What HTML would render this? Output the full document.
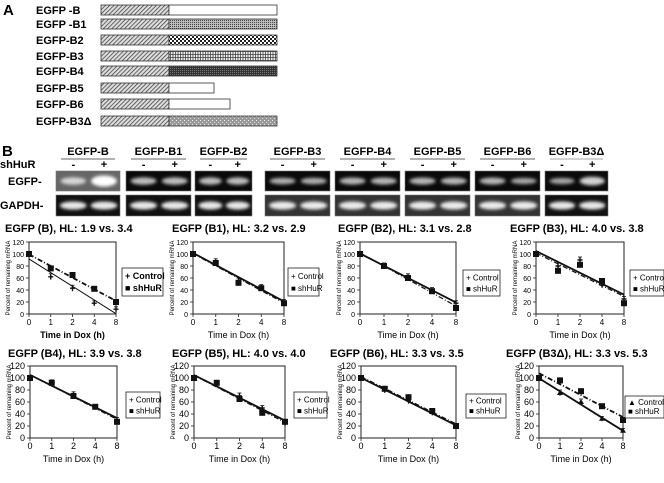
<!DOCTYPE html>
<html><head><meta charset="utf-8"><style>
html,body{margin:0;padding:0;background:#fff;}
svg{display:block;font-family:"Liberation Sans",sans-serif;}
</style></head><body>
<svg id="fig" width="664" height="483" viewBox="0 0 664 483" xmlns="http://www.w3.org/2000/svg">
<defs>
<pattern id="diag" width="3" height="3" patternUnits="userSpaceOnUse" patternTransform="rotate(45)"><rect width="3" height="3" fill="#ddd"/><line x1="0" y1="0" x2="0" y2="3" stroke="#333" stroke-width="1.4"/></pattern>
<pattern id="dots1" width="2" height="2" patternUnits="userSpaceOnUse"><rect width="2" height="2" fill="#bbb"/><rect width="1" height="1" fill="#444"/></pattern>
<pattern id="check" width="4" height="4" patternUnits="userSpaceOnUse"><rect width="4" height="4" fill="#fff"/><rect width="2" height="2" fill="#222"/><rect x="2" y="2" width="2" height="2" fill="#222"/></pattern>
<pattern id="grid" width="2.5" height="3" patternUnits="userSpaceOnUse"><rect width="3" height="3" fill="#eee"/><line x1="0.5" y1="0" x2="0.5" y2="3" stroke="#444" stroke-width="0.8"/><line x1="0" y1="0.5" x2="3" y2="0.5" stroke="#444" stroke-width="0.8"/></pattern>
<pattern id="dark" width="2" height="2" patternUnits="userSpaceOnUse"><rect width="2" height="2" fill="#333"/><rect width="1" height="1" fill="#777"/></pattern>
<pattern id="sparse" width="4" height="4" patternUnits="userSpaceOnUse"><rect width="4" height="4" fill="#999"/><rect width="1" height="1" fill="#eee"/><rect x="2" y="2" width="1" height="1" fill="#ddd"/></pattern>
<filter id="blur" x="-20%" y="-80%" width="140%" height="260%"><feGaussianBlur stdDeviation="1.6"/></filter>
</defs>
<g id="partA"></g>
<g id="gels"></g>
<g id="charts"></g>
</svg>
<script>
var NS='http://www.w3.org/2000/svg';
function mk(tag,attrs,parent,txt){var e=document.createElementNS(NS,tag);for(var k in attrs)e.setAttribute(k,attrs[k]);if(txt!==undefined)e.textContent=txt;parent.appendChild(e);return e;}

// ---- Panel A data ----
var constructNames=['EGFP -B','EGFP -B1','EGFP-B2','EGFP-B3','EGFP-B4','EGFP-B5','EGFP-B6','EGFP-B3\u0394'];
var constructEnds=[277,277,277,277,277,214,230,277];
var constructFills=['#fff','url(#dots1)','url(#check)','url(#grid)','url(#dark)','#fff','#fff','url(#sparse)'];
var rowsY=[10,24,40,56,71,88,104,121];
var A=document.getElementById('partA');
var t=mk('text',{x:3,y:15,'font-size':15,'font-weight':'bold'},A,'A');

constructNames.forEach(function(n,i){
 var y=rowsY[i];
 var tx=mk('text',{x:36,y:y+4,'font-size':11,'font-weight':'bold'},A,n);
 
 var g=mk('g',{},A);
 
 mk('rect',{x:101,y:y-5,width:68,height:10,fill:'url(#diag)',stroke:'#333','stroke-width':0.8},g);
 mk('rect',{x:169,y:y-5,width:constructEnds[i]-169,height:10,fill:constructFills[i],stroke:'#333','stroke-width':0.8},g);
});

// ---- Gels ----
var gelNames=['EGFP-B','EGFP-B1','EGFP-B2','EGFP-B3','EGFP-B4','EGFP-B5','EGFP-B6','EGFP-B3\u0394'];
var gelX=[56,126,195,265,335,405,475,545];
var gelW=[64,65,57,65,65,65,65,63];
var egfpBand=[[0.55,1.0],[0.55,0.55],[0.55,0.55],[0.45,0.45],[0.5,0.5],[0.5,0.5],[0.5,0.4],[0.4,0.7]];
var G=document.getElementById('gels');
var bl=mk('text',{x:2,y:156,'font-size':15,'font-weight':'bold'},G,'B');

var l1=mk('text',{x:0,y:168,'font-size':11,'font-weight':'bold'},G,'shHuR');

var l2=mk('text',{x:8,y:185,'font-size':11,'font-weight':'bold'},G,'EGFP-');

var l3=mk('text',{x:0,y:209,'font-size':11,'font-weight':'bold'},G,'GAPDH-');

gelNames.forEach(function(n,i){
 var x=gelX[i],w=gelW[i],cx=x+w/2;
 var tt=mk('text',{x:cx,y:155,'font-size':11,'font-weight':'bold','text-anchor':'middle'},G,n);
 
 mk('line',{x1:x+5,y1:159,x2:x+w-5,y2:159,stroke:i==7?'#888':'#333','stroke-width':0.8},G);
 mk('text',{x:x+w*0.27,y:168,'font-size':11,'font-weight':'bold','text-anchor':'middle'},G,'-');
 mk('text',{x:x+w*0.75,y:168,'font-size':11,'font-weight':'bold','text-anchor':'middle'},G,'+');
 var bg=i==0?'#666':'#0a0a0a';
 var g1=mk('g',{},G);
 mk('rect',{x:x,y:171,width:w,height:20,fill:bg,stroke:'#777','stroke-width':0.6},g1);
 [0.27,0.75].forEach(function(f,j){var s=egfpBand[i][j];
  mk('ellipse',{cx:x+w*f,cy:181,rx:w*0.2,ry:1.5+4*s,fill:'#fff',opacity:0.4+0.6*s,filter:'url(#blur)'},g1);});
 var g2=mk('g',{},G);
 mk('rect',{x:x,y:195,width:w,height:21,fill:i==3||i==4||i==5||i==6?'#333':'#111',stroke:'#777','stroke-width':0.6},g2);
 [0.27,0.75].forEach(function(f){mk('ellipse',{cx:x+w*f,cy:205.5,rx:w*0.21,ry:4,fill:'#fff',opacity:0.9,filter:'url(#blur)'},g2);});
});

// ---- Charts data ----
var timeLabels=['0','1','2','4','8'];
var yTicks=[0,20,40,60,80,100,120];
var chartTitles=['EGFP (B), HL: 1.9 vs. 3.4','EGFP (B1), HL: 3.2 vs. 2.9','EGFP (B2), HL: 3.1 vs. 2.8','EGFP (B3), HL: 4.0 vs. 3.8','EGFP (B4), HL: 3.9 vs. 3.8','EGFP (B5), HL: 4.0 vs. 4.0','EGFP (B6), HL: 3.3 vs. 3.5','EGFP (B3\u0394), HL: 3.3 vs. 5.3'];
var controlB=[100,62,43,18,8];   var shB=[100,76,65,42,20];
var controlB1=[100,87,55,45,20]; var shB1=[100,85,52,43,18];
var controlB2=[100,80,62,40,18]; var shB2=[100,80,60,38,10];
var controlB3=[100,80,90,48,25]; var shB3=[100,72,82,55,18];
var controlB4=[100,92,72,52,30]; var shB4=[100,92,70,52,27];
var controlB5=[100,90,70,50,25]; var shB5=[100,92,65,42,27];
var controlB6=[100,80,62,42,20]; var shB6=[100,82,68,45,20];
var controlB3d=[100,75,60,32,12]; var shB3d=[100,96,78,53,30];
var errorBar=[2,5,5,4,4];
var controlSeries=[controlB,controlB1,controlB2,controlB3,controlB4,controlB5,controlB6,controlB3d];
var shSeries=[shB,shB1,shB2,shB3,shB4,shB5,shB6,shB3d];

// layout (not data)
var layout=[
 {l:29,r:116,t:242,b:314,tx:5,ty:232,lg:[122,268,41,28]},
 {l:193,r:284,t:242,b:314,tx:172,ty:232,lg:[288,268,31,28]},
 {l:360,r:456,t:242,b:314,tx:338,ty:232,lg:[463,270,37,26]},
 {l:536,r:624,t:242,b:314,tx:510,ty:232,lg:[630,270,34,26]},
 {l:30,r:117,t:366,b:438,tx:8,ty:357,lg:[126,392,34,26]},
 {l:194,r:285,t:366,b:438,tx:172,ty:357,lg:[294,392,33,26]},
 {l:361,r:456,t:366,b:438,tx:330,ty:357,lg:[466,394,40,24]},
 {l:539,r:623,t:366,b:438,tx:506,ty:357,lg:[625,396,39,22]}
];
var C=document.getElementById('charts');
function fit(ys){var n=ys.length,mx=(n-1)/2,my=0;ys.forEach(function(v){my+=v;});my/=n;var sxy=0,sxx=0;ys.forEach(function(v,i){sxy+=(i-mx)*(v-my);sxx+=(i-mx)*(i-mx);});var s=sxy/sxx;return [my-s*mx,s];}
layout.forEach(function(L,ci){
 var g=mk('g',{},C);
 
 
 var xs=function(i){return L.l+(L.r-L.l)*i/(timeLabels.length-1);};
 var ys=function(v){return L.b-(L.b-L.t)*v/120;};
 var tt=mk('text',{x:L.tx,y:L.ty,'font-size':11,'font-weight':'bold'},g,chartTitles[ci]);
 
 mk('rect',{x:L.l,y:L.t,width:L.r-L.l,height:L.b-L.t,fill:'none',stroke:'#222','stroke-width':1},g);
 yTicks.forEach(function(v){
  mk('line',{x1:L.l-3,y1:ys(v),x2:L.l,y2:ys(v),stroke:'#222','stroke-width':0.8},g);
  var tl=mk('text',{x:L.l-5,y:ys(v)+3,'font-size':ci>=4?9:7,'text-anchor':'end'},g,String(v));
  
 });
 timeLabels.forEach(function(lb,i){
  mk('line',{x1:xs(i),y1:L.b,x2:xs(i),y2:L.b+3,stroke:'#222','stroke-width':0.8},g);
  var xl=mk('text',{x:xs(i),y:L.b+11,'font-size':ci>=4?9:8,'text-anchor':'middle'},g,lb);
  
 });
 var xt=mk('text',{x:(L.l+L.r)/2,y:L.b+24,'font-size':9,'text-anchor':'middle','font-weight':ci==0?'bold':'normal'},g,'Time in Dox (h)');
 
 var yt=mk('text',{x:0,y:0,'font-size':6,'text-anchor':'middle',transform:'translate('+(L.l-19)+','+((L.t+L.b)/2)+') rotate(-90)'},g,'Percent of remaining mRNA');
 
 var fc=fit(controlSeries[ci]),fs=fit(shSeries[ci]);
 var n=timeLabels.length-1;
 var lc=mk('line',{x1:xs(0),y1:ys(fc[0]),x2:xs(n),y2:ys(Math.max(-5,fc[0]+fc[1]*n)),stroke:'#111','stroke-width':ci==0?1:1.8},g);
 
 var ls=mk('line',{x1:xs(0),y1:ys(fs[0]),x2:xs(n),y2:ys(fs[0]+fs[1]*n),stroke:'#111','stroke-width':ci==0||ci==7?1.8:1.2,'stroke-dasharray':'5,2,1,2'},g);
 
 controlSeries[ci].forEach(function(v,i){
  var px=xs(i),py=ys(v),e=errorBar[i]*(L.b-L.t)/120;
  mk('line',{x1:px,y1:py-e,x2:px,y2:py+e,stroke:'#111','stroke-width':0.8},g);
  mk('line',{x1:px-2,y1:py-e,x2:px+2,y2:py-e,stroke:'#111','stroke-width':0.8},g);
  var m;
  if(ci==7){m=mk('path',{d:'M'+px+' '+(py-3)+'L'+(px+3)+' '+(py+2)+'L'+(px-3)+' '+(py+2)+'Z',fill:'#111'},g);}
  else{m=mk('path',{d:'M'+(px-2.5)+' '+py+'H'+(px+2.5)+'M'+px+' '+(py-2.5)+'V'+(py+2.5),stroke:'#111','stroke-width':1.4},g);}
  
 });
 shSeries[ci].forEach(function(v,i){
  var px=xs(i),py=ys(v),e=errorBar[i]*(L.b-L.t)/120;
  mk('line',{x1:px,y1:py-e,x2:px,y2:py+e,stroke:'#111','stroke-width':0.8},g);
  var m=mk('rect',{x:px-3,y:py-3,width:6,height:6,fill:'#111'},g);
  
 });
 var lg=L.lg;
 var lgG=mk('g',{},g);
 mk('rect',{x:lg[0],y:lg[1],width:lg[2],height:lg[3],fill:'#fff',stroke:'#222','stroke-width':0.8},lgG);
 var fs2=ci==0?9:8;
 var e1=mk('text',{x:lg[0]+3,y:lg[1]+lg[3]*0.4,'font-size':fs2,'font-weight':ci==0?'bold':'normal'},lgG,(ci==7?'\u25B2':'+')+' Control');
 
 var e2=mk('text',{x:lg[0]+3,y:lg[1]+lg[3]*0.82,'font-size':fs2,'font-weight':ci==0?'bold':'normal'},lgG,'\u25A0 shHuR');
 
});
</script>
</body></html>
